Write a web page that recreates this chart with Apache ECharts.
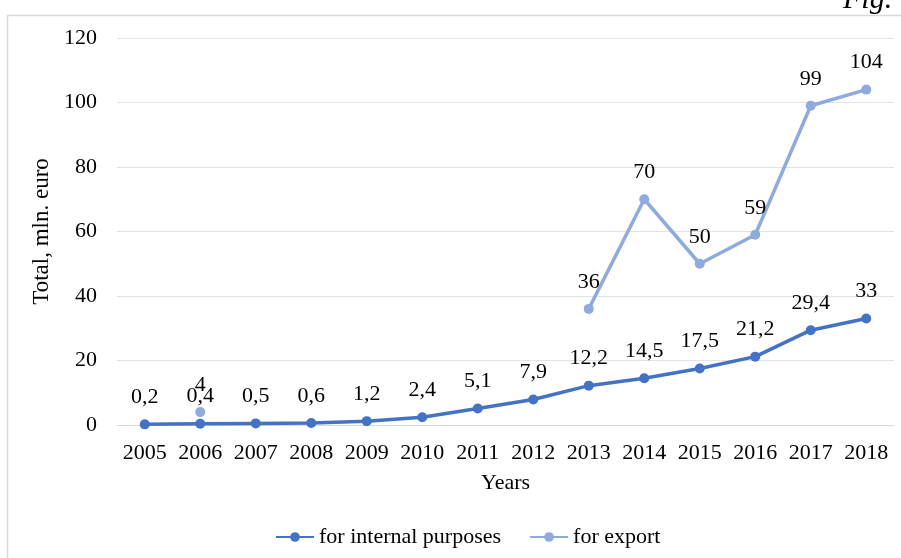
<!DOCTYPE html>
<html>
<head>
<meta charset="utf-8">
<script src="https://cdn.jsdelivr.net/npm/echarts@6/dist/echarts.min.js"></script>
<style>
  html, body { margin: 0; padding: 0; background: #fff; }
  #chart { width: 901px; height: 558px; }
</style>
</head>
<body>
<div id="chart"></div>
<script>
var years = ['2005', '2006', '2007', '2008', '2009', '2010', '2011', '2012', '2013', '2014', '2015', '2016', '2017', '2018'];
var internalValues = [0.2, 0.4, 0.5, 0.6, 1.2, 2.4, 5.1, 7.9, 12.2, 14.5, 17.5, 21.2, 29.4, 33];
var exportValues = [null, 4, null, null, null, null, null, null, 36, 70, 50, 59, 99, 104];

var font = '"Liberation Serif", "Times New Roman", serif';

// 数值标签用逗号作小数点
function commaLabel(p) {
    return String(p.value).replace('.', ',');
}

var myChart = echarts.init(document.getElementById('chart'));

var option = {
    backgroundColor: '#fff',
    textStyle: { fontFamily: font },
    graphic: [
        {
            type: 'rect',
            shape: { x: 7.5, y: 15.5, width: 900, height: 560 },
            style: { fill: 'none', stroke: '#d9d9d9', lineWidth: 1.5 },
            silent: true
        },
        {
            type: 'text',
            left: 843,
            top: -15,
            style: { text: 'Fig.', font: 'italic 30px ' + font, fill: '#000' },
            silent: true
        }
    ],
    legend: {
        left: 270,
        top: 521,
        itemWidth: 38,
        itemHeight: 12,
        itemGap: 28,
        textStyle: { fontFamily: font, fontSize: 22, color: '#000' },
        data: ['for internal purposes', 'for export']
    },
    grid: {
        left: 117,
        right: 7,
        top: 38,
        bottom: 133
    },
    xAxis: {
        type: 'category',
        data: years,
        name: 'Years',
        nameLocation: 'middle',
        nameGap: 47,
        nameTextStyle: { fontFamily: font, fontSize: 22, color: '#000' },
        axisLine: { lineStyle: { color: '#d9d9d9' } },
        axisTick: { show: false },
        axisLabel: { interval: 0, fontFamily: font, fontSize: 22, color: '#000', margin: 17 }
    },
    yAxis: {
        type: 'value',
        min: 0,
        max: 120,
        interval: 20,
        name: 'Total, mln. euro',
        nameLocation: 'middle',
        nameGap: 58,
        nameTextStyle: { fontFamily: font, fontSize: 23, color: '#000' },
        axisLine: { show: false },
        axisTick: { show: false },
        axisLabel: { fontFamily: font, fontSize: 22, color: '#000', margin: 20 },
        splitLine: { lineStyle: { color: '#e3e3e3' } }
    },
    series: [
        {
            name: 'for internal purposes',
            type: 'line',
            data: internalValues,
            color: '#4472c4',
            symbol: 'circle',
            symbolSize: 10,
            lineStyle: { width: 3.5 },
            label: {
                show: true,
                position: 'top',
                distance: 11,
                fontFamily: font,
                fontSize: 22,
                color: '#000',
                formatter: commaLabel
            }
        },
        {
            name: 'for export',
            type: 'line',
            data: exportValues,
            color: '#8faadc',
            symbol: 'circle',
            symbolSize: 10,
            showSymbol: true,
            lineStyle: { width: 3.5 },
            label: {
                show: true,
                position: 'top',
                distance: 11,
                fontFamily: font,
                fontSize: 22,
                color: '#000',
                formatter: commaLabel
            }
        }
    ]
};

myChart.setOption(option);
</script>
</body>
</html>
